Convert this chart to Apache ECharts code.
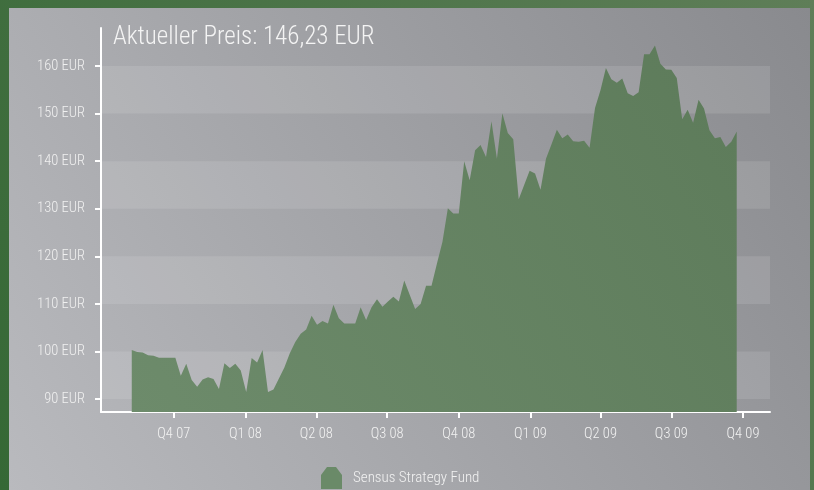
<!DOCTYPE html>
<html>
<head>
<meta charset="utf-8">
<script src="https://cdn.jsdelivr.net/npm/echarts@6/dist/echarts.min.js"></script>
<style>
html,body{margin:0;padding:0;background:#8f9094;}
#c{width:814px;height:490px;}
</style>
</head>
<body>
<div id="c"></div>
<script>
// ---- data ----
const seriesName = 'Sensus Strategy Fund';
const titleText = 'Aktueller Preis: 146,23 EUR';
const firstDate = '2007-08-08'; // weekly observations
const prices = [
 100.3, 99.9, 99.8, 99.2, 99.1, 98.7, 98.7, 98.7, 98.7, 94.9,
 97.4, 94.0, 92.6, 94.1, 94.6, 94.2, 92.1, 97.5, 96.5, 97.4,
 96.0, 91.5, 98.6, 97.7, 100.3, 91.5, 92.0, 94.3, 96.6, 99.6,
 102.0, 103.7, 104.6, 107.5, 105.6, 106.4, 105.9, 109.8, 107.0, 105.9,
 105.9, 105.9, 109.3, 106.6, 109.3, 111.0, 109.4, 110.5, 111.5, 110.5,
 114.9, 111.9, 108.9, 110.0, 113.8, 113.8, 118.5, 123.0, 130.1, 129.0,
 129.0, 140.0, 136.0, 142.3, 143.4, 140.9, 148.4, 140.5, 150.1, 145.9,
 144.6, 132.0, 135.0, 138.0, 137.4, 134.0, 140.5, 143.5, 146.6, 144.8,
 145.6, 144.2, 144.1, 144.3, 142.8, 151.2, 154.9, 159.6, 157.2, 156.5,
 157.4, 154.3, 153.7, 154.5, 162.5, 162.5, 164.3, 160.5, 159.3, 159.2,
 157.5, 148.8, 150.8, 148.1, 152.9, 151.1, 146.5, 144.8, 145.1, 143.0,
 144.1, 146.23
];
const quarterTicks = ['2007-10-01','2008-01-01','2008-04-01','2008-07-01','2008-10-01','2009-01-01','2009-04-01','2009-07-01','2009-10-01'];
const quarterLabels = ['Q4 07','Q1 08','Q2 08','Q3 08','Q4 08','Q1 09','Q2 09','Q3 09','Q4 09'];
const yTicks = [90, 100, 110, 120, 130, 140, 150, 160];
const bands = [[90, 100], [110, 120], [130, 140], [150, 160]];

// ---- build ----
const DAY = 86400000;
const t0 = Date.parse(firstDate + 'T00:00:00Z');
const dates = prices.map((_, i) => t0 + i * 7 * DAY);
const qTs = quarterTicks.map(d => Date.parse(d + 'T00:00:00Z'));
const xMin = Date.parse('2007-06-29T12:00:00Z');
const xMax = Date.parse('2009-11-04T18:00:00Z');

const G = echarts.graphic;
const chart = echarts.init(document.getElementById('c'), null, {renderer: 'canvas'});
const FONT = 'Roboto, "Open Sans", sans-serif';
const COND = '300 condensed';

chart.setOption({
  animation: false,
  backgroundColor: 'transparent',
  graphic: [
    {type: 'rect', z: -100, silent: true, shape: {x: 0, y: 0, width: 814, height: 490},
     style: {fill: new G.LinearGradient(1, 0, 0, 1, [{offset: 0, color: '#5f7e58'}, {offset: 1, color: '#356835'}])}},
    {type: 'rect', z: -99, silent: true, shape: {x: 9, y: 8, width: 801, height: 482},
     style: {fill: new G.LinearGradient(0, 1, 1, 0, [{offset: 0, color: '#b9babe'}, {offset: 1, color: '#898a8e'}])}}
  ],
  title: {
    text: titleText, left: 108, top: 20,
    textStyle: {color: '#f4f4f4', fontFamily: FONT, fontSize: 25, fontWeight: COND}
  },
  legend: {
    data: [seriesName], left: 321, top: 467, padding: 0,
    itemWidth: 21, itemHeight: 22,
    icon: 'path://M6,0 L15,0 L21,8 L21,22 L0,22 L0,8 Z',
    textStyle: {color: '#f2f2f2', fontFamily: FONT, fontSize: 15, fontWeight: COND, padding: [0, 0, 0, 6]}
  },
  grid: {left: 101, right: 44, top: 28, bottom: 78, containLabel: false},
  xAxis: {
    type: 'value', min: xMin, max: xMax,
    axisLine: {show: true, lineStyle: {color: '#ffffff', width: 2}},
    axisTick: {show: true, customValues: qTs, length: 6, lineStyle: {color: '#ffffff', width: 2}},
    axisLabel: {
      customValues: qTs, margin: 15, color: '#f2f2f2', fontFamily: FONT, fontSize: 14.5, fontWeight: COND,
      formatter: v => { const i = qTs.indexOf(v); return i >= 0 ? quarterLabels[i] : ''; }
    },
    splitLine: {show: false}
  },
  yAxis: {
    type: 'value', min: 87.27, max: 168,
    axisLine: {show: true, lineStyle: {color: '#ffffff', width: 2}},
    axisTick: {show: true, customValues: yTicks, length: 6, lineStyle: {color: '#ffffff', width: 2}},
    axisLabel: {
      customValues: yTicks, margin: 16, color: '#f0f0f0', fontFamily: FONT, fontSize: 14.5, fontWeight: COND,
      formatter: v => Math.round(v) + ' EUR'
    },
    splitLine: {show: false},
    splitArea: {show: false}
  },
  series: [
    {
      type: 'line', name: 'bands', data: [], z: 1, silent: true,
      markArea: {
        silent: true,
        itemStyle: {color: 'rgba(255,255,255,0.11)'},
        data: bands.map(b => [{yAxis: b[0]}, {yAxis: b[1]}])
      }
    },
    {
      type: 'line', name: seriesName, z: 3,
      data: dates.map((d, i) => [d, prices[i]]),
      symbol: 'none',
      color: '#6a8a68',
      itemStyle: {color: '#6a8a68'},
      lineStyle: {width: 0, color: '#6a8a68'},
      areaStyle: {
        opacity: 1,
        color: new G.LinearGradient(0, 1, 1, 0, [{offset: 0, color: '#6d8b6b'}, {offset: 1, color: '#5d7b5a'}])
      }
    }
  ]
});
</script>
</body>
</html>
